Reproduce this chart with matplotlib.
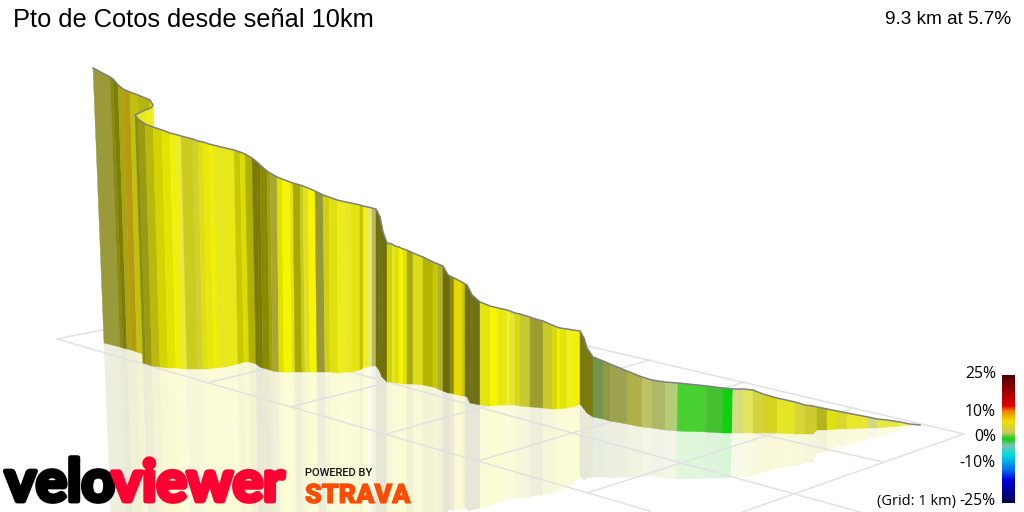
#!/usr/bin/env python
import numpy as np
import matplotlib
matplotlib.use('Agg')
import matplotlib.pyplot as plt
import matplotlib.patheffects as pe
from matplotlib.colors import LinearSegmentedColormap, to_rgb

# wall behind the fold, top and foot of every strip edge
back_top_x = [93, 110, 113, 118, 123, 130, 138, 150, 153, 151, 145, 135]
back_top_y = [68, 77, 79, 85, 89, 92, 95, 100, 105, 108, 110, 115]
back_foot_x = [104, 120, 123, 127, 131, 137, 143, 156, 160, 158, 152, 143]
back_foot_y = [343, 347, 348, 349, 350, 352, 354, 357, 358, 360, 362, 363]
back_colors = ['#9a9a3a', '#8a8a10', '#7d7d0a', '#a8a510', '#b89a10', '#c0c010',
               '#b5b510', '#e0e010', '#f0f020', '#eded20', '#e8e820']

# main wall
wall_top_x = [135, 138, 145, 153, 162, 170, 178, 181, 193, 198,
              203, 209, 213, 221, 234, 240, 245, 252, 257, 260,
              267, 270, 277, 282, 290, 293, 300, 303, 308, 315,
              323, 329, 337, 346, 351, 360, 363, 368, 372, 376,
              380, 383, 387, 392, 395, 399, 403, 407, 413, 423,
              433, 438, 443, 448, 450, 454, 462, 465, 467, 472,
              480, 490, 498, 507, 510, 515, 520, 530, 532, 543,
              552, 557, 560, 567, 573, 580, 584, 587,
              593, 603, 610, 627, 642, 652, 665, 678, 707, 723,
              733, 743, 753, 763, 777, 795, 805, 813, 817, 827, 837,
              847, 868, 877, 887, 900, 910, 920]
wall_top_y = [115, 119, 124, 127, 130, 133, 135, 136, 139, 141,
              142, 144, 145, 147, 150, 152, 154, 158, 162, 165,
              171, 173, 177, 179, 182, 183, 185, 186, 188, 191,
              195, 197, 200, 202, 203, 205, 206, 207, 208, 209,
              217, 232, 243, 244, 246, 247, 249, 250, 253, 257,
              262, 264, 266, 275, 276, 278, 282, 284, 285, 295,
              302, 306, 308, 310, 311, 313, 314, 317, 318, 321,
              325, 327, 328, 329, 330, 331, 338, 348,
              357, 361, 364, 371, 377, 380, 382, 383, 386, 388,
              389, 389, 390, 394, 398, 402, 405, 406, 407, 409, 411,
              413, 417, 419, 420, 422, 424, 425]
wall_foot_x = [143, 146, 152, 160, 168, 176, 183, 187, 198, 203,
               208, 214, 218, 225, 238, 244, 249, 256, 260, 263,
               270, 273, 279, 284, 292, 295, 302, 305, 310, 317,
               325, 330, 338, 347, 352, 360, 363, 368, 372, 376,
               379, 382, 387, 392, 395, 399, 403, 407, 413, 423,
               433, 438, 443, 448, 450, 454, 462, 465, 467, 470,
               480, 490, 498, 507, 510, 515, 520, 530, 532, 543,
               552, 557, 560, 567, 573, 580, 584, 587,
               593, 603, 610, 627, 642, 652, 665, 677, 706, 722,
               732, 743, 753, 763, 777, 795, 805, 813, 817, 827, 837,
               847, 868, 877, 887, 900, 910, 920]
wall_foot_y = [363, 364, 366, 367, 368, 368, 369, 369, 369, 369,
               369, 368, 368, 367, 364, 362, 362, 364, 367, 368,
               370, 371, 372, 372, 372, 372, 372, 372, 372, 372,
               372, 372, 373, 372, 372, 370, 368, 367, 366, 366,
               370, 377, 382, 382, 383, 383, 384, 384, 384, 385,
               387, 389, 391, 393, 393, 394, 396, 396, 397, 403,
               405, 406, 405, 405, 405, 405, 406, 407, 407, 408,
               409, 409, 409, 408, 407, 404, 409, 413,
               417, 419, 421, 424, 427, 428, 430, 431, 432, 433,
               433, 433, 433, 433, 433, 434, 434, 434, 430, 430, 429,
               429, 428, 428, 427, 426, 425, 425]
wall_colors = ['#8c8c10', '#9a9a15', '#b8b810', '#d4d400', '#e4e400', '#f0f010', '#e8e840', '#cccc20', '#d0d030', '#e0e010',
               '#e8e810', '#f0f000', '#e8e820', '#e8e818', '#c8c800', '#dcdc00', '#b0b000', '#7a7a08', '#7a7a08', '#8a8a00',
               '#a0a010', '#a8a830', '#e0e000', '#f5f500', '#e0e020', '#a8a800', '#c8c820', '#e0e020', '#f5f500', '#98983a',
               '#d0d010', '#e0e010', '#ecec20', '#e8e820', '#e4e410', '#c0c000', '#f0f020', '#e8e870', '#b8b860', '#707010',
               '#707010', '#70700a', '#d0d010', '#e4e420', '#e0e000', '#f5f500', '#e0e010', '#a8a810', '#dcdc18', '#b4b400',
               '#c8c800', '#b0b030', '#6c6c10', '#6c6c10', '#8a8a10', '#e8d800', '#c8c800', '#707018', '#707018', '#707018',
               '#e4e410', '#f5f500', '#e8e810', '#f0f030', '#e4e430', '#d8d810', '#c8c830', '#a0a030', '#9c9c30', '#c8c828',
               '#d8d810', '#f0f000', '#e4e410', '#f0f020', '#f0f000', '#7a7a10', '#7a7a10', '#7a7a10',
               '#74954e', '#8f9a45', '#9ea350', '#b0b04a', '#bcc266', '#b0b86a', '#b2cf78', '#48d030', '#45c030', '#10d010',
               '#d6dc80', '#e2e460', '#d4d440', '#d4d420', '#e4e428', '#d6d638', '#cccc30', '#cccc30', '#b4b420', '#e0e010', '#d8d830',
               '#e8e830', '#d0d880', '#e8e840', '#e8e840', '#f0f050', '#f0f050']

# 1 km floor grid, seen in perspective
grid_x0 = [57, 300, 720, 327, 964, 57, 207, 290, 383, 478, 587]
grid_y0 = [339, 358, 425, 285, 434, 339, 383, 407, 435, 461, 493]
grid_x1 = [650, 860, 883, 964, 700, 327, 330, 430, 650, 745, 853]
grid_y1 = [511, 512, 462, 434, 527, 285, 353, 372, 360, 382, 408]

scale_ticks = ['25%', '10%', '0%', '-10%', '-25%']
scale_tick_y = [374, 412, 437, 463, 501]
scale_stops = [0.0, 0.1, 0.24, 0.28, 0.36, 0.45, 0.5, 0.55, 0.62, 0.74, 0.82, 1.0]
scale_colors = ['#4a0000', '#900000', '#e00000', '#f08000', '#f0e000', '#c8c860',
                '#10d010', '#80c0b0', '#00e0e0', '#0070f0', '#0000e0', '#000050']

SHINE = 0.17


def strip(ax, x0, y0, x1, y1, x2, y2, x3, y3, c, z=2):
    ax.fill([x0, x1, x2, x3], [y0, y1, y2, y3], facecolor=c, edgecolor=c, lw=0.3, zorder=z)


def wall(ax, tx, ty, fx, fy, colors, z):
    for i, c in enumerate(colors):
        strip(ax, tx[i], ty[i], tx[i+1], ty[i+1], fx[i+1], fy[i+1], fx[i], fy[i], c, z=z)


def mirror(ax, tx, ty, fx, fy, colors, stop=10000):
    # the floor shine is the wall flipped about its foot, washed out on white
    tx, ty, fx, fy = [np.array(a, dtype=float) for a in (tx, ty, fx, fy)]
    rx = 2*fx - tx
    ry = 2*fy - ty
    for i, c in enumerate(colors):
        if fx[i+1] > stop:
            break
        pale = 1 - SHINE*(1 - np.array(to_rgb(c)))
        strip(ax, fx[i], fy[i], fx[i+1], fy[i+1], rx[i+1], ry[i+1], rx[i], ry[i], tuple(pale), z=1.5)


plt.rcParams['font.family'] = ['Liberation Sans', 'DejaVu Sans']
fig = plt.figure(figsize=(10.24, 5.12), dpi=100)
ax = fig.add_axes([0, 0, 1, 1])

for i in range(len(grid_x0)):
    ax.plot([grid_x0[i], grid_x1[i]], [grid_y0[i], grid_y1[i]], color='#e2e2e2', lw=1.1, zorder=1.8)

mirror(ax, back_top_x, back_top_y, back_foot_x, back_foot_y, back_colors, stop=143)
mirror(ax, wall_top_x, wall_top_y, wall_foot_x, wall_foot_y, wall_colors)
wall(ax, back_top_x, back_top_y, back_foot_x, back_foot_y, back_colors, 2)
ax.plot(back_top_x, back_top_y, color='#808080', lw=1.1, zorder=2.5)
wall(ax, wall_top_x, wall_top_y, wall_foot_x, wall_foot_y, wall_colors, 3)
ax.plot(wall_top_x, wall_top_y, color='#808080', lw=1.1, zorder=3.5)

cmap = LinearSegmentedColormap.from_list('grade', list(zip(scale_stops, scale_colors)))
ax.imshow(np.linspace(0, 1, 256).reshape(-1, 1), cmap=cmap, extent=(1002, 1015, 503, 375),
          aspect='auto', zorder=4)

ax.set_xlim(0, 1024)
ax.set_ylim(512, 0)
ax.axis('off')

ax.text(13, 20, 'Pto de Cotos desde señal 10km', fontsize=18.3, va='center', ha='left', color='black')
ax.text(1011, 20, '9.3 km at 5.7%', fontsize=13.7, va='center', ha='right', color='black')

for s, y in zip(scale_ticks, scale_tick_y):
    ax.text(996, y, s, fontsize=11.3, family='Open Sans', va='center', ha='right', color='black')
ax.text(956, 501, '(Grid: 1 km)', fontsize=10.5, family='Open Sans', va='center', ha='right', color='black')

# logo wordmarks
ax.text(5, 501, 'velo', fontsize=42, family='Lato', weight='bold', color='black', va='baseline', ha='left',
        path_effects=[pe.withStroke(linewidth=3.5, foreground='black')], zorder=6)
ax.text(112, 501, 'viewer', fontsize=41, family='Lato', weight='bold', color='#ff0033', va='baseline', ha='left',
        path_effects=[pe.withStroke(linewidth=3.5, foreground='#ff0033')], zorder=6)
ax.text(305, 473, 'POWERED BY', fontsize=8, family='Roboto', weight='medium', color='#111111', va='center', ha='left', zorder=6)
ax.text(305, 503, 'STRAVA', fontsize=19.3, family='Roboto', weight='black', color='#fc4c02', va='baseline', ha='left',
        path_effects=[pe.withStroke(linewidth=0.8, foreground='#fc4c02')], zorder=6)

fig.savefig('out.png', dpi=100)
